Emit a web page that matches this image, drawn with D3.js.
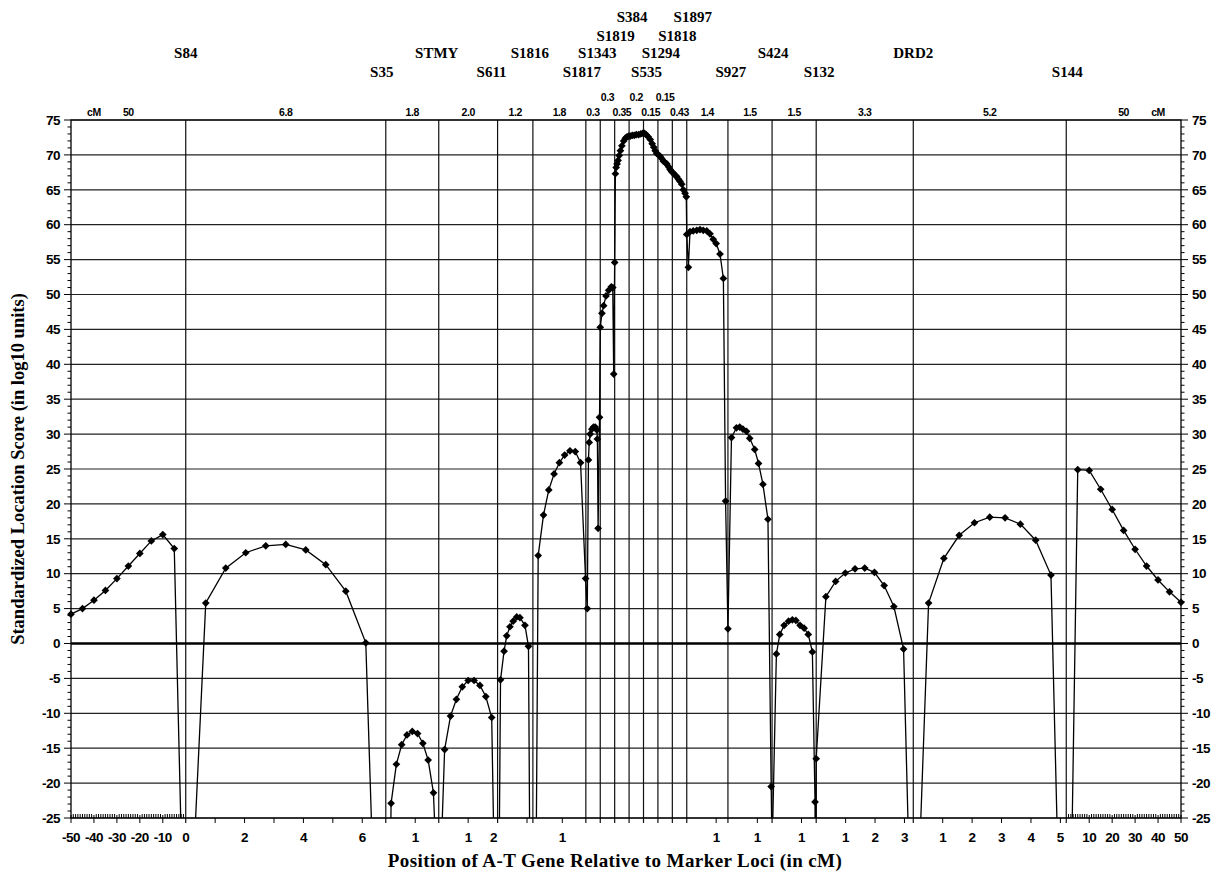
<!DOCTYPE html>
<html>
<head>
<meta charset="utf-8">
<script src="https://cdn.jsdelivr.net/npm/d3@7"></script>
<style>
  body { margin: 0; background: #fff; }
  svg { display: block; }
</style>
</head>
<body>
<div id="chart"></div>
<script>
// marker loci, left to right, and the genetic distance (cM) between neighbours
const markers = ["S84", "S35", "STMY", "S611", "S1816", "S1817", "S1343", "S1819", "S384",
    "S535", "S1294", "S1818", "S1897", "S927", "S424", "S132", "DRD2", "S144"];
const gapsCM = [6.8, 1.8, 2.0, 1.2, 1.8, 0.3, 0.3, 0.35, 0.2, 0.15, 0.15, 0.43, 1.4, 1.5, 1.5, 3.3, 5.2];
const gapLabels = ["6.8", "1.8", "2.0", "1.2", "1.8", "0.3", "0.3", "0.35", "0.2", "0.15", "0.15", "0.43",
    "1.4", "1.5", "1.5", "3.3", "5.2"];
const flankCM = 50;

const scoreTicks = d3.range(-25, 76, 5);

// bottom axis labels: [marker, distance from that marker in cM]
const axisLabels = [
    ["S84", -50], ["S84", -40], ["S84", -30], ["S84", -20], ["S84", -10], ["S84", 0],
    ["S84", 2], ["S84", 4], ["S84", 6],
    ["S35", 1], ["STMY", 1], ["STMY", 2], ["S1816", 1],
    ["S1897", 1], ["S927", 1], ["S424", 1],
    ["S132", 1], ["S132", 2], ["S132", 3],
    ["DRD2", 1], ["DRD2", 2], ["DRD2", 3], ["DRD2", 4], ["DRD2", 5],
    ["S144", 10], ["S144", 20], ["S144", 30], ["S144", 40], ["S144", 50]
];

// [position in cM from S84, standardized location score]
const locScores = [
    [-50, 4.2], [-45, 5.0], [-40, 6.2], [-35, 7.6], [-30, 9.3], [-25, 11.1], [-20, 12.9], [-15, 14.7], [-10, 15.6], [-5, 13.6],
    [0, -55],
    [0.68, 5.8], [1.36, 10.8], [2.04, 13.0], [2.72, 14.0], [3.40, 14.2], [4.08, 13.4], [4.76, 11.3], [5.44, 7.5], [6.12, 0.1],
    [6.8, -90],
    [6.98, -22.9], [7.16, -17.3], [7.34, -14.5], [7.52, -13.1], [7.70, -12.6], [7.88, -12.9], [8.06, -14.3], [8.24, -16.7], [8.42, -21.4],
    [8.6, -40],
    [8.8, -15.2], [9.0, -10.4], [9.2, -8.0], [9.4, -6.2], [9.6, -5.3], [9.8, -5.3], [10.0, -6.0], [10.2, -7.6], [10.4, -10.6],
    [10.6, -60],
    [10.70, -5.2], [10.82, -1.1], [10.91, 1.1], [11.02, 2.4], [11.13, 3.2], [11.25, 3.8], [11.36, 3.7], [11.53, 2.6], [11.65, -0.4],
    [11.8, -100],
    [11.98, 12.6], [12.16, 18.4], [12.34, 22.0], [12.52, 24.3], [12.70, 25.9], [12.88, 27.0], [13.06, 27.6], [13.24, 27.5], [13.42, 25.9],
    [13.59, 9.3], [13.63, 5.0],
    [13.654, 26.3], [13.67, 28.8], [13.69, 30.0], [13.725, 30.7], [13.76, 31.0], [13.795, 31.0], [13.83, 30.6], [13.84, 29.3], [13.855, 16.5], [13.885, 32.4],
    [13.9, 45.3],
    [13.935, 47.3], [13.97, 48.4], [14.02, 49.8], [14.075, 50.6], [14.13, 51.1], [14.16, 51.0], [14.18, 38.6],
    [14.2, 54.6],
    [14.217, 67.3], [14.236, 68.2], [14.258, 68.7], [14.283, 69.2], [14.309, 69.9], [14.339, 70.6], [14.375, 71.3], [14.419, 72.0], [14.46, 72.4], [14.50, 72.6], [14.54, 72.7],
    [14.567, 72.7], [14.594, 72.8], [14.622, 72.8], [14.65, 72.9], [14.682, 72.9], [14.713, 73.0], [14.74, 73.1],
    [14.76, 73.1], [14.778, 72.9], [14.799, 72.6], [14.82, 72.2], [14.84, 71.6], [14.856, 71.1], [14.872, 70.6], [14.8875, 70.2],
    [14.907, 70.0], [14.923, 69.8], [14.939, 69.5], [14.957, 69.1], [14.975, 68.9], [14.993, 68.7], [15.011, 68.3], [15.027, 67.9], [15.043, 67.6],
    [15.08, 67.4], [15.131, 67.1], [15.181, 66.9], [15.235, 66.5], [15.28, 66.2], [15.331, 65.8], [15.379, 65.0], [15.43, 64.5], [15.466, 64.0],
    [15.48, 58.6],
    [15.535, 53.9], [15.59, 59.0], [15.70, 59.1], [15.82, 59.2], [15.93, 59.3], [16.04, 59.2], [16.16, 59.1], [16.27, 58.7], [16.38, 57.9], [16.48, 57.3], [16.61, 55.8], [16.725, 52.3], [16.80, 20.4],
    [16.88, 2.1],
    [17.0, 29.5], [17.17, 30.9], [17.28, 31.0], [17.39, 30.7], [17.51, 30.4], [17.62, 29.4], [17.79, 27.8], [17.92, 25.8], [18.07, 22.8], [18.24, 17.8], [18.35, -20.5],
    [18.38, -30],
    [18.527, -1.5], [18.642, 1.3], [18.79, 2.6], [18.94, 3.2], [19.07, 3.4], [19.19, 3.3], [19.33, 2.6], [19.47, 2.2], [19.61, 1.3], [19.75, -1.2], [19.84, -22.7],
    [19.865, -45], [19.88, -16.5],
    [20.21, 6.7], [20.54, 8.9], [20.87, 10.1], [21.20, 10.7], [21.53, 10.8], [21.86, 10.2], [22.19, 8.3], [22.52, 5.3], [22.85, -0.8],
    [23.18, -55],
    [23.70, 5.8], [24.22, 12.2], [24.74, 15.5], [25.26, 17.3], [25.78, 18.1], [26.30, 18.0], [26.82, 17.1], [27.34, 14.8], [27.86, 9.8],
    [28.38, -80],
    [33.38, 24.9], [38.38, 24.8], [43.38, 22.1], [48.38, 19.2], [53.38, 16.2], [58.38, 13.5], [63.38, 11.1], [68.38, 9.1], [73.38, 7.4], [78.38, 5.9]
];

// label layout for marker names (row 1 = top) and small nudges
const labelRow = [3, 4, 3, 4, 3, 4, 3, 2, 1, 4, 3, 2, 1, 4, 3, 4, 3, 4];
const labelNudge = [0, -4, -2, -6, -3, -4, -3, 1, 3, 3, 3, 5, 6, 3, 1, 3, 0, 1];
const upperGap = [6, 8, 10];   // narrow gaps whose cM label sits one row up

const W = 1219, H = 876;
const margin = { top: 120, right: 38, bottom: 58, left: 71 };
const width = W - margin.left - margin.right;
const height = H - margin.top - margin.bottom;

// the x axis is piecewise: flanks squeezed, tiny gaps widened
const flankUnits = 3.9, minGapUnits = 0.49;
const markerCM = [0];
gapsCM.forEach(gp => markerCM.push(+(markerCM[markerCM.length - 1] + gp).toFixed(3)));
const lastCM = markerCM[markerCM.length - 1];
const domain = [-flankCM, ...markerCM, lastCM + flankCM];
const units = [flankUnits, ...gapsCM.map(gp => Math.max(gp, minGapUnits)), flankUnits];
const totalUnits = d3.sum(units);
const rangePx = [0];
units.forEach(u => rangePx.push(rangePx[rangePx.length - 1] + u / totalUnits * width));

const x = d3.scaleLinear().domain(domain).range(rangePx);
const y = d3.scaleLinear().domain([-25, 75]).range([height, 0]);
const mx = name => markerCM[markers.indexOf(name)];

const svg = d3.select("#chart")
    .append("svg")
    .attr("width", W)
    .attr("height", H)
    .style("font-family", "'Liberation Sans', Arial, sans-serif");

const g = svg.append("g")
    .attr("transform", `translate(${margin.left},${margin.top})`);

// horizontal grid
g.selectAll(".hgrid")
    .data(scoreTicks.filter(t => t !== 0))
    .enter()
    .append("line")
    .attr("x1", 0).attr("x2", width)
    .attr("y1", d => y(d)).attr("y2", d => y(d))
    .attr("stroke", "#222")
    .attr("stroke-width", 1.2);

// marker lines
g.selectAll(".vgrid")
    .data(markerCM)
    .enter()
    .append("line")
    .attr("x1", d => x(d)).attr("x2", d => x(d))
    .attr("y1", 0).attr("y2", height + 5)
    .attr("stroke", "#111")
    .attr("stroke-width", 1.2);

// zero line
g.append("line")
    .attr("x1", 0).attr("x2", width)
    .attr("y1", y(0)).attr("y2", y(0))
    .attr("stroke", "#000")
    .attr("stroke-width", 2.6);

// frame
g.append("rect")
    .attr("width", width).attr("height", height)
    .attr("fill", "none")
    .attr("stroke", "#000")
    .attr("stroke-width", 1.3);

// y axes, both sides
const yMinor = d3.range(-25, 76, 1);
[["left", 0, -1], ["right", width, 1]].forEach(([side, x0, dir]) => {
    g.selectAll(".ym-" + side)
        .data(yMinor)
        .enter()
        .append("line")
        .attr("x1", x0).attr("x2", d => x0 + dir * (d % 5 === 0 ? 7 : 3.5))
        .attr("y1", d => y(d)).attr("y2", d => y(d))
        .attr("stroke", "#000")
        .attr("stroke-width", 1);

    g.selectAll(".yl-" + side)
        .data(scoreTicks)
        .enter()
        .append("text")
        .attr("x", x0 + dir * 11)
        .attr("y", d => y(d))
        .attr("dy", "0.35em")
        .attr("text-anchor", side === "left" ? "end" : "start")
        .attr("font-size", "13.5px")
        .attr("font-weight", "bold")
        .attr("letter-spacing", "-0.5px")
        .text(d => d);
});

// bottom ruler ticks: flanks every cM (inside), gaps every whole cM
const flankTicks = d3.range(1, flankCM + 1);
const bottomTicks = [];
flankTicks.forEach(t => {
    const big = t % 10 === 0;
    bottomTicks.push({ v: -t, a: big ? -3 : -4, b: big ? 5 : 0 });
    bottomTicks.push({ v: lastCM + t, a: big ? -3 : -4, b: big ? 5 : 0 });
});
gapsCM.forEach((gp, i) => {
    for (let t = 1; t < gp - 0.05; t++) bottomTicks.push({ v: markerCM[i] + t, a: 0, b: 5 });
});

g.selectAll(".xtick")
    .data(bottomTicks)
    .enter()
    .append("line")
    .attr("x1", d => x(d.v)).attr("x2", d => x(d.v))
    .attr("y1", d => height + d.a).attr("y2", d => height + d.b)
    .attr("stroke", "#000")
    .attr("stroke-width", 1);

g.selectAll(".xlabel")
    .data(axisLabels)
    .enter()
    .append("text")
    .attr("x", d => {
        const i = markers.indexOf(d[0]);
        const atNext = i < gapsCM.length && Math.abs(d[1] - gapsCM[i]) < 1e-6;
        return x(mx(d[0]) + d[1]) + (atNext ? -4 : 0);
    })
    .attr("y", height + 24)
    .attr("text-anchor", "middle")
    .attr("font-size", "13.5px")
    .attr("font-weight", "bold")
    .attr("letter-spacing", "-0.5px")
    .text(d => d[1]);

// cM distances above the frame
const gapMid = gapsCM.map((gp, i) => (markerCM[i] + markerCM[i + 1]) / 2);
g.selectAll(".gaplabel")
    .data(gapLabels)
    .enter()
    .append("text")
    .attr("x", (d, i) => x(gapMid[i]))
    .attr("y", (d, i) => upperGap.includes(i) ? -19 : -4)
    .attr("text-anchor", "middle")
    .attr("font-size", "10.5px")
    .attr("font-weight", "bold")
    .attr("letter-spacing", "-0.4px")
    .text(d => d);

const flankLabels = [
    { v: -flankCM / 2, t: String(flankCM) },
    { v: lastCM + flankCM / 2, t: String(flankCM) },
    { v: -flankCM * 0.8, t: "cM" },
    { v: lastCM + flankCM * 0.8, t: "cM" }
];
g.selectAll(".flanklabel")
    .data(flankLabels)
    .enter()
    .append("text")
    .attr("x", d => x(d.v))
    .attr("y", -4)
    .attr("text-anchor", "middle")
    .attr("font-size", "10.5px")
    .attr("font-weight", "bold")
    .attr("letter-spacing", "-0.4px")
    .text(d => d.t);

// marker names
const rowY = [0, 22, 41, 58, 77];
svg.selectAll(".marker")
    .data(markers)
    .enter()
    .append("text")
    .attr("x", (d, i) => margin.left + x(markerCM[i]) + labelNudge[i])
    .attr("y", (d, i) => rowY[labelRow[i]])
    .attr("text-anchor", "middle")
    .attr("font-family", "'Liberation Serif', 'Times New Roman', serif")
    .attr("font-size", "15px")
    .attr("font-weight", "bold")
    .text(d => d);

// score curve
svg.append("defs").append("clipPath")
    .attr("id", "plotclip")
    .append("rect")
    .attr("x", -6).attr("y", 0)
    .attr("width", width + 12).attr("height", height);

const plot = g.append("g").attr("clip-path", "url(#plotclip)");

plot.append("path")
    .datum(locScores)
    .attr("fill", "none")
    .attr("stroke", "#000")
    .attr("stroke-width", 1.3)
    .attr("d", d3.line().x(d => x(d[0])).y(d => y(d[1])));

plot.selectAll(".pt")
    .data(locScores)
    .enter()
    .append("path")
    .attr("transform", d => `translate(${x(d[0])},${y(d[1])})`)
    .attr("d", d3.symbol().type(d3.symbolDiamond2).size(38))
    .attr("fill", "#000");

// axis titles
svg.append("text")
    .attr("x", 615)
    .attr("y", 867)
    .attr("text-anchor", "middle")
    .attr("font-family", "'Liberation Serif', 'Times New Roman', serif")
    .attr("font-size", "19px")
    .attr("font-weight", "bold")
    .attr("letter-spacing", "0.4px")
    .text("Position of A-T Gene Relative to Marker Loci (in cM)");

svg.append("text")
    .attr("transform", "translate(24,469) rotate(-90)")
    .attr("text-anchor", "middle")
    .attr("font-family", "'Liberation Serif', 'Times New Roman', serif")
    .attr("font-size", "18.5px")
    .attr("font-weight", "bold")
    .text("Standardized Location Score (in log10 units)");
</script>
</body>
</html>
